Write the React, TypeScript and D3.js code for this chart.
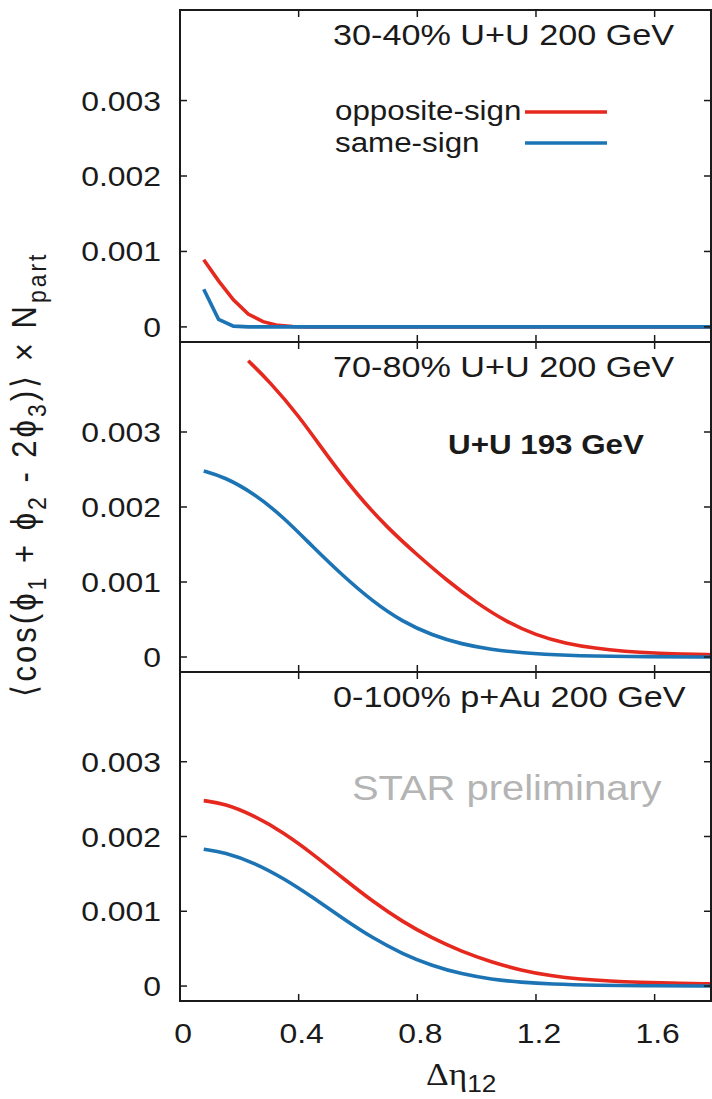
import React from "react";
import * as d3 from "d3";

// Δη12 values and correlator values
const etaOpp1 = [0.08, 0.13, 0.18, 0.23, 0.28, 0.33, 0.38, 0.43, 0.8, 1.2, 1.6, 1.79];
const opp1 = [0.00089, 0.00061, 0.00036, 0.00017, 0.00007, 0.00002, 0.000005, 0, 0, 0, 0, 0];
const etaSame1 = [0.08, 0.13, 0.18, 0.23, 0.8, 1.2, 1.6, 1.79];
const same1 = [0.0005, 0.0001, 0.00001, 0, 0, 0, 0, 0];

const etaOpp2 = [0.23, 0.3, 0.4, 0.5, 0.6, 0.7, 0.8, 0.9, 1.0, 1.1, 1.2, 1.3, 1.4, 1.5, 1.6, 1.7, 1.79];
const opp2 = [0.00395, 0.00368, 0.00322, 0.00266, 0.00215, 0.00172, 0.00136, 0.00102, 0.00072, 0.00047, 0.00029, 0.00018, 0.000115, 0.000075, 0.00005, 0.00004, 0.00003];
const etaSame2 = [0.08, 0.15, 0.25, 0.35, 0.45, 0.55, 0.65, 0.75, 0.85, 0.95, 1.05, 1.15, 1.3, 1.5, 1.79];
const same2 = [0.00248, 0.0024, 0.00218, 0.00186, 0.00146, 0.00108, 0.00074, 0.00047, 0.00029, 0.00017, 0.0001, 0.000055, 0.00002, 0.000006, 0];

const etaOpp3 = [0.08, 0.15, 0.25, 0.35, 0.45, 0.55, 0.65, 0.75, 0.85, 0.95, 1.05, 1.15, 1.25, 1.35, 1.45, 1.55, 1.65, 1.79];
const opp3 = [0.00248, 0.00244, 0.00228, 0.00205, 0.00176, 0.00144, 0.00113, 0.00086, 0.00064, 0.00046, 0.00032, 0.00021, 0.000135, 0.00009, 0.000065, 0.00005, 0.00004, 0.00003];
const etaSame3 = [0.08, 0.15, 0.25, 0.35, 0.45, 0.55, 0.65, 0.75, 0.85, 0.95, 1.05, 1.15, 1.25, 1.4, 1.6, 1.79];
const same3 = [0.00183, 0.00179, 0.00165, 0.00144, 0.00118, 0.0009, 0.00064, 0.00043, 0.00027, 0.00016, 0.00009, 0.00005, 0.000025, 0.00001, 0.000003, 0];

const xTicks = [0, 0.4, 0.8, 1.2, 1.6];
const xTickLabels = ["0", "0.4", "0.8", "1.2", "1.6"];
const yTicks = [0, 0.001, 0.002, 0.003];
const yTickLabels = ["0", "0.001", "0.002", "0.003"];

const titles = ["30-40% U+U 200 GeV", "70-80% U+U 200 GeV", "0-100% p+Au 200 GeV"];

const RED = "#e5291f";
const BLUE = "#1c74b4";
const INK = "#1a1a1a";
const SANS = "'Liberation Sans', Arial, Helvetica, sans-serif";
const SX = 1.14; // glyphs in the figure are a bit wider than tall

const W = 712;
const H = 1099;
const L = 180;
const R = 711;

const x = d3.scaleLinear().domain([0, 1.79]).range([L, R]);

const panels = [
  { top: 10, bottom: 342, title: titles[0], curve: d3.curveLinear,
    series: [[etaOpp1, opp1, RED], [etaSame1, same1, BLUE]] },
  { top: 342, bottom: 672, title: titles[1], curve: d3.curveBasis,
    series: [[etaOpp2, opp2, RED], [etaSame2, same2, BLUE]] },
  { top: 672, bottom: 1001, title: titles[2], curve: d3.curveBasis,
    series: [[etaOpp3, opp3, RED], [etaSame3, same3, BLUE]] },
];

const Txt = ({ x, y, size, anchor = "start", fill = INK, weight = "normal", family = SANS, children }: any) => (
  <text
    transform={`translate(${x},${y}) scale(${SX},1)`}
    fontSize={size}
    textAnchor={anchor}
    fill={fill}
    fontWeight={weight}
    fontFamily={family}
  >
    {children}
  </text>
);

const Panel = ({ p }: any) => {
  const y = d3.scaleLinear().domain([-0.0002, 0.0042]).range([p.bottom, p.top]);
  const tick = 7;
  return (
    <g>
      {p.series.map(([eta, vals, color]: any, i: number) => {
        const line = d3.line<number>()
          .x((d, j) => x(eta[j]))
          .y((d) => y(d))
          .curve(p.curve);
        return <path key={i} d={line(vals) || ""} fill="none" stroke={color} strokeWidth={3.6} />;
      })}
      {/* y ticks, both sides */}
      {yTicks.map((v) => (
        <g key={v}>
          <line x1={L} x2={L + tick} y1={y(v)} y2={y(v)} stroke={INK} strokeWidth={1.5} />
          <line x1={R} x2={R - tick} y1={y(v)} y2={y(v)} stroke={INK} strokeWidth={1.5} />
        </g>
      ))}
      {yTicks.map((v, i) => (
        <Txt key={"l" + v} x={161} y={y(v) + 10} size={28} anchor="end">{yTickLabels[i]}</Txt>
      ))}
      {/* x ticks on top and bottom of each panel */}
      {xTicks.slice(1).map((v) => (
        <g key={"x" + v}>
          <line x1={x(v)} x2={x(v)} y1={p.top} y2={p.top + tick} stroke={INK} strokeWidth={1.5} />
          <line x1={x(v)} x2={x(v)} y1={p.bottom} y2={p.bottom - tick} stroke={INK} strokeWidth={1.5} />
        </g>
      ))}
      <rect x={L} y={p.top} width={R - L} height={p.bottom - p.top} fill="none" stroke={INK} strokeWidth={2} />
      <Txt x={333} y={p.top + 35} size={30}>{p.title}</Txt>
    </g>
  );
};

export default function App() {
  const sub = (s: string) => (
    <tspan fontSize={23} dy={9}>{s}</tspan>
  );
  return (
    <svg width={W} height={H} style={{ position: "absolute", left: 0, top: 0, background: "#fff" }}>
      <rect width={W} height={H} fill="#fff" />
      {panels.map((p, i) => <Panel key={i} p={p} />)}

      {/* legend */}
      <Txt x={335} y={120} size={27.5}>opposite-sign</Txt>
      <Txt x={335} y={152} size={27.5}>same-sign</Txt>
      <line x1={525} x2={607} y1={112} y2={112} stroke={RED} strokeWidth={3.6} />
      <line x1={525} x2={607} y1={143} y2={143} stroke={BLUE} strokeWidth={3.6} />

      <Txt x={448} y={454} size={27.5} weight="bold">U+U 193 GeV</Txt>
      <Txt x={352} y={800} size={35} fill="#b4b4b4">STAR preliminary</Txt>

      {/* x tick labels */}
      {xTicks.map((v, i) => (
        <Txt key={v} x={x(v) + 3} y={1043} size={28} anchor="middle">{xTickLabels[i]}</Txt>
      ))}

      {/* x axis title */}
      <text transform={`translate(426,1085) scale(${SX},1)`} fill={INK}>
        <tspan fontFamily="'Liberation Serif', serif" fontSize={31}>Δη</tspan>
        <tspan fontFamily={SANS} fontSize={23} dy={7}>12</tspan>
      </text>

      {/* y axis title */}
      <text
        transform={`translate(36,474) scale(${SX},1) rotate(-90)`}
        textAnchor="middle"
        fontFamily={SANS}
        fontSize={31}
        letterSpacing={3}
        fill={INK}
      >
        <tspan>⟨cos(ϕ</tspan>{sub("1")}
        <tspan dy={-9}> + ϕ</tspan>{sub("2")}
        <tspan dy={-9}> - 2ϕ</tspan>{sub("3")}
        <tspan dy={-9}>)⟩ × N</tspan>{sub("part")}
      </text>
    </svg>
  );
}
